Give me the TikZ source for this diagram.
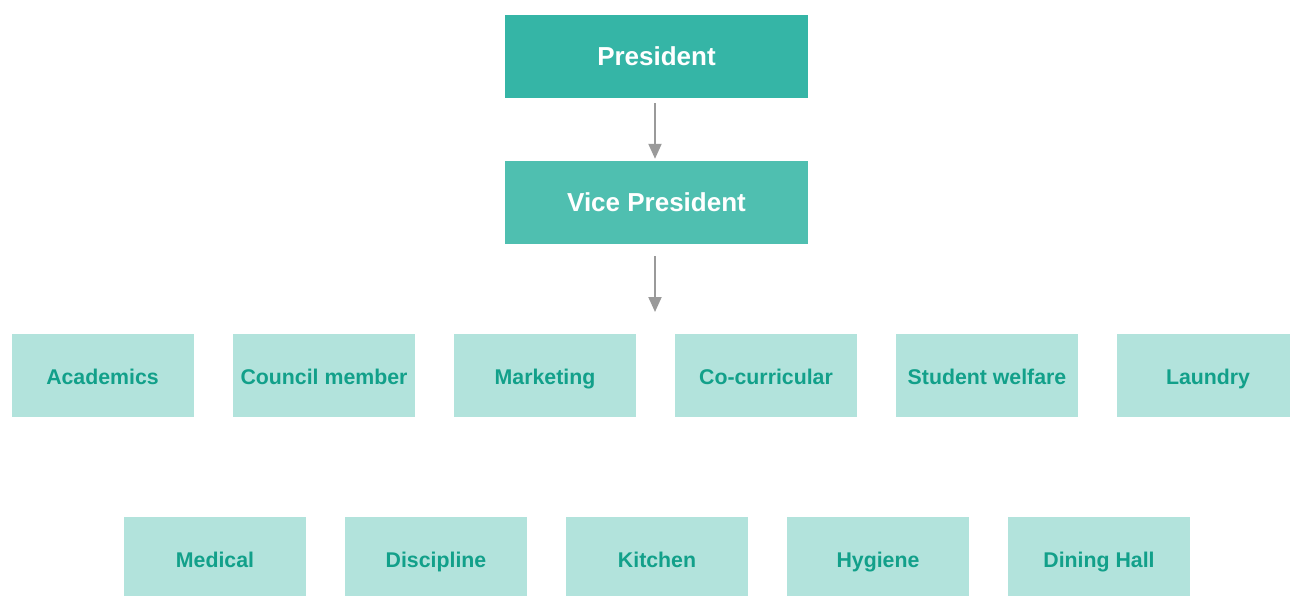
\documentclass[tikz,border=0pt]{standalone}
\usepackage{fontspec}
\setmainfont{Liberation Sans}
\usetikzlibrary{arrows.meta}
\definecolor{headA}{HTML}{35B5A6}
\definecolor{headB}{HTML}{4FBFB0}
\definecolor{unitfill}{HTML}{B2E3DC}
\definecolor{unittext}{HTML}{12A08A}
\definecolor{linkgray}{HTML}{9A9A9A}
\tikzset{
  headbox/.style={rectangle, inner sep=0pt, minimum width=303pt, minimum height=83pt,
    text=white, text height=23pt, text depth=5pt, font=\bfseries\fontsize{26}{30}\selectfont},
  unitbox/.style={rectangle, fill=unitfill, inner sep=0pt, minimum width=182pt, minimum height=83pt,
    text=unittext, text height=23pt, text depth=5pt, font=\bfseries\fontsize{21.3}{25}\selectfont},
  link/.style={draw=linkgray, line width=2pt, -{Triangle[length=15pt,width=13pt]}}
}
\begin{document}
\begin{tikzpicture}[x=1pt,y=-1pt]
  \useasboundingbox (0,0) rectangle (1290,595);
  \clip (0,0) rectangle (1290,595);
  \fill[white] (0,0) rectangle (1290,595);

  % leadership
  \node[headbox, fill=headA] (pres) at (656.5,56.5) {President};
  \node[headbox, fill=headB] (vp) at (656.5,202.5) {Vice President};

  % first row of units
  \node[unitbox] (acad) at (102.5,375.5) {Academics};
  \node[unitbox] (council) at (324,375.5) {Council member};
  \node[unitbox] (mkt) at (545,375.5) {Marketing};
  \node[unitbox] (cocur) at (766,375.5) {Co-curricular};
  \node[unitbox] (welfare) at (987,375.5) {Student welfare};
  \node[unitbox] (laundry) at (1208,375.5) {Laundry};

  % second row of units
  \node[unitbox] (medical) at (215,558.5) {Medical};
  \node[unitbox] (disc) at (436,558.5) {Discipline};
  \node[unitbox] (kitchen) at (657,558.5) {Kitchen};
  \node[unitbox] (hygiene) at (878,558.5) {Hygiene};
  \node[unitbox] (dining) at (1099,558.5) {Dining Hall};

  % connectors
  \coordinate (down) at (655,312);
  \draw[link] ([xshift=-1.5pt,yshift=-5pt]pres.south) -- ([xshift=-1.5pt,yshift=2pt]vp.north);
  \draw[link] ([xshift=-1.5pt,yshift=-12pt]vp.south) -- (down);
\end{tikzpicture}
\end{document}
